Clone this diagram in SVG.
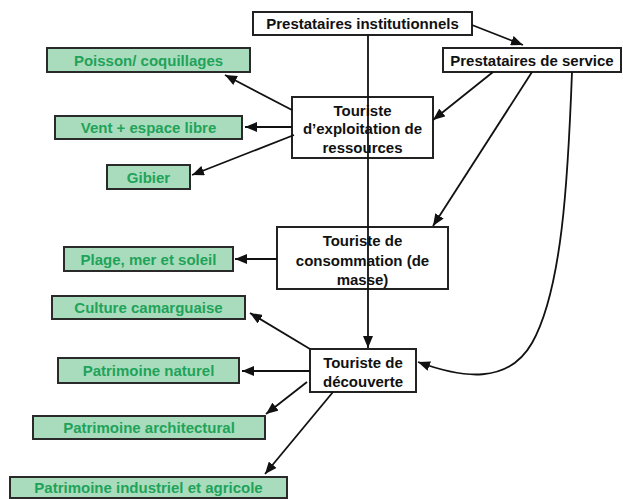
<svg xmlns="http://www.w3.org/2000/svg" width="623" height="499" viewBox="0 0 623 499">
<defs>
<marker id="ah" viewBox="0 0 12 10" refX="12" refY="5" markerWidth="12" markerHeight="10" markerUnits="userSpaceOnUse" orient="auto">
<path d="M0,0 L12,5 L0,10 z" fill="#111"/>
</marker>
<style>
.wb{fill:#fff;stroke:#222;stroke-width:2}
.gb{fill:#a9dcbc;stroke:#2a2a2a;stroke-width:2}
.wt{font-family:"Liberation Sans",Arial,sans-serif;font-weight:bold;font-size:15px;fill:#111;text-anchor:middle}
.gt{font-family:"Liberation Sans",Arial,sans-serif;font-weight:bold;font-size:15px;fill:#1fa35a;text-anchor:middle}
.c{fill:none;stroke:#111;stroke-width:1.8;marker-end:url(#ah)}
</style>
</defs>
<rect width="623" height="499" fill="#fff"/>
<g id="n-institutionnels">
<rect class="wb" x="253" y="12" width="219" height="23"/>
<text class="wt" x="362.5" y="29">Prestataires institutionnels</text>
</g>
<g id="n-service">
<rect class="wb" x="443" y="48" width="178" height="24"/>
<text class="wt" x="532" y="66">Prestataires de service</text>
</g>
<g id="n-exploitation">
<rect class="wb" x="292" y="97" width="141" height="61"/>
<text class="wt" x="362.5" y="116">Touriste</text>
<text class="wt" x="362.5" y="134">d’exploitation de</text>
<text class="wt" x="362.5" y="153">ressources</text>
</g>
<g id="n-consommation">
<rect class="wb" x="277" y="227" width="171" height="62"/>
<text class="wt" x="362.5" y="246">Touriste de</text>
<text class="wt" x="362.5" y="266">consommation (de</text>
<text class="wt" x="362.5" y="285">masse)</text>
</g>
<g id="n-decouverte">
<rect class="wb" x="310" y="349" width="106" height="43"/>
<text class="wt" x="363" y="368">Touriste de</text>
<text class="wt" x="363" y="387">découverte</text>
</g>
<g id="n-poisson">
<rect class="gb" x="47" y="48" width="203" height="24"/>
<text class="gt" x="148.5" y="66">Poisson/ coquillages</text>
</g>
<g id="n-vent">
<rect class="gb" x="55" y="116" width="187" height="23"/>
<text class="gt" x="148.5" y="133">Vent + espace libre</text>
</g>
<g id="n-gibier">
<rect class="gb" x="107" y="165" width="83" height="24"/>
<text class="gt" x="148.5" y="183">Gibier</text>
</g>
<g id="n-plage">
<rect class="gb" x="64" y="247" width="169" height="24"/>
<text class="gt" x="148.5" y="265">Plage, mer et soleil</text>
</g>
<g id="n-culture">
<rect class="gb" x="52" y="296" width="193" height="23"/>
<text class="gt" x="148.5" y="313">Culture camarguaise</text>
</g>
<g id="n-naturel">
<rect class="gb" x="58" y="358" width="181" height="25"/>
<text class="gt" x="148.5" y="376">Patrimoine naturel</text>
</g>
<g id="n-architectural">
<rect class="gb" x="33" y="416" width="232" height="23"/>
<text class="gt" x="149" y="433">Patrimoine architectural</text>
</g>
<g id="n-industriel">
<rect class="gb" x="10" y="477" width="277" height="21"/>
<text class="gt" x="148.5" y="493">Patrimoine industriel et agricole</text>
</g>
<g id="connectors">
<line class="c" x1="472" y1="25" x2="523" y2="45"/>
<line class="c" x1="493" y1="72" x2="433" y2="120"/>
<line class="c" x1="532" y1="72" x2="433" y2="226"/>
<path class="c" d="M572,72 C568,180 562,290 532,343 C508,385 462,378 418,362"/>
<line class="c" x1="368" y1="35" x2="368" y2="348"/>
<line class="c" x1="292" y1="110" x2="225" y2="75"/>
<line class="c" x1="292" y1="127" x2="245" y2="127"/>
<line class="c" x1="294" y1="135" x2="192" y2="175"/>
<line class="c" x1="277" y1="259" x2="235" y2="259"/>
<line class="c" x1="310" y1="349" x2="250" y2="313"/>
<line class="c" x1="310" y1="371" x2="242" y2="371"/>
<line class="c" x1="307" y1="382" x2="266" y2="414"/>
<line class="c" x1="333" y1="392" x2="265" y2="474"/>
</g>
</svg>
